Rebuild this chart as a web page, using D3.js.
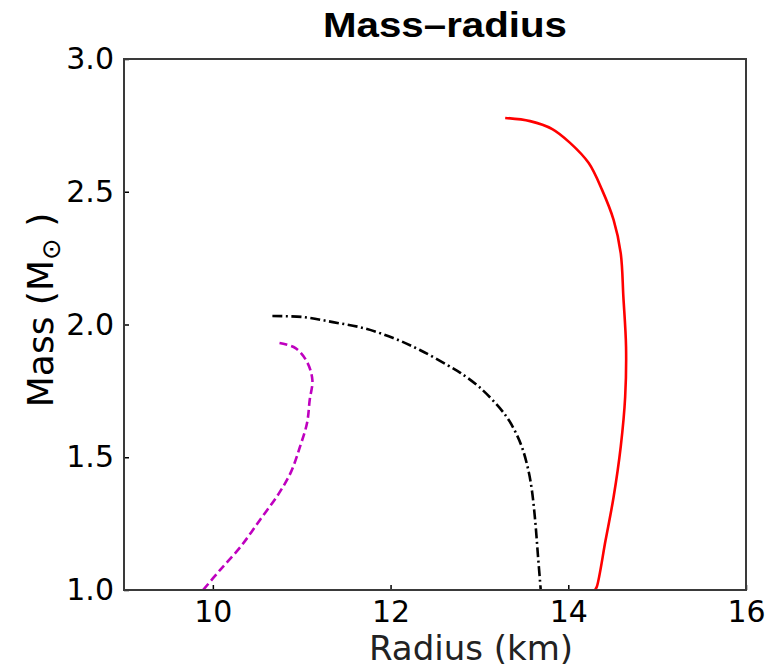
<!DOCTYPE html>
<html>
<head>
<meta charset="utf-8">
<script src="https://cdn.jsdelivr.net/npm/d3@7"></script>
<style>
  body { margin: 0; background: #fff; }
</style>
</head>
<body>
<div id="chart"></div>
<script>
// mass-radius curves (radius km, mass Msun)
var redRadius = [13.29, 13.57, 13.82, 14.02, 14.23, 14.38, 14.51, 14.59, 14.62, 14.65, 14.64, 14.59, 14.51, 14.42, 14.32, 14.30];
var redMass   = [2.778, 2.766, 2.736, 2.684, 2.608, 2.507, 2.394, 2.269, 2.104, 1.915, 1.727, 1.539, 1.350, 1.188, 1.011, 1.0];

var blackRadius = [10.67, 11.02, 11.35, 11.69, 12.03, 12.33, 12.64, 12.79, 13.01, 13.23, 13.33, 13.42, 13.49, 13.55, 13.59, 13.63, 13.66, 13.69];
var blackMass   = [2.032, 2.028, 2.009, 1.987, 1.949, 1.904, 1.847, 1.817, 1.761, 1.685, 1.640, 1.585, 1.527, 1.452, 1.377, 1.252, 1.124, 1.0];

var magentaRadius = [10.75, 10.93, 11.06, 11.12, 11.09, 11.06, 10.98, 10.88, 10.74, 10.53, 10.31, 10.08, 9.89];
var magentaMass   = [1.930, 1.911, 1.859, 1.791, 1.716, 1.629, 1.539, 1.445, 1.362, 1.264, 1.162, 1.075, 1.0];

var xTicks = [10, 12, 14, 16];
var yTicks = [1.0, 1.5, 2.0, 2.5, 3.0];

var width = 777;
var height = 669;

var svg = d3.select("#chart").append("svg")
  .attr("width", width)
  .attr("height", height);

var margin = {top: 59, right: 31, bottom: 79, left: 124};
var w = width - margin.left - margin.right;
var h = height - margin.top - margin.bottom;

var x = d3.scaleLinear().domain([9, 16]).range([0, w]);
var y = d3.scaleLinear().domain([1, 3]).range([h, 0]);

var g = svg.append("g")
  .attr("transform", "translate(" + margin.left + "," + margin.top + ")");

// clip so the curves end at the frame
g.append("clipPath").attr("id", "clip")
  .append("rect").attr("width", w).attr("height", h);

var line = d3.line()
  .x(function (d) { return x(d[0]); })
  .y(function (d) { return y(d[1]); })
  .curve(d3.curveCatmullRom.alpha(0.5));

var curves = [
  {r: redRadius, m: redMass, color: "#ff0000", dash: null},
  {r: blackRadius, m: blackMass, color: "#000000", dash: "10,3.5,2,3.5"},
  {r: magentaRadius, m: magentaMass, color: "#bf00bf", dash: "8,4"}
];

curves.forEach(function (c) {
  var pts = c.r.map(function (v, i) { return [v, c.m[i]]; });
  g.append("path")
    .attr("clip-path", "url(#clip)")
    .attr("d", line(pts))
    .attr("fill", "none")
    .attr("stroke", c.color)
    .attr("stroke-width", 2.6)
    .attr("stroke-dasharray", c.dash);
});

// axes, ticks pointing inward
var xAxis = g.append("g")
  .attr("transform", "translate(0," + h + ")")
  .call(d3.axisBottom(x).tickValues(xTicks).tickSizeInner(-5).tickSizeOuter(0).tickPadding(11)
    .tickFormat(d3.format("d")));

var yAxis = g.append("g")
  .call(d3.axisLeft(y).tickValues(yTicks).tickSizeInner(-5).tickSizeOuter(0).tickPadding(10)
    .tickFormat(d3.format(".1f")));

[xAxis, yAxis].forEach(function (a) {
  a.select(".domain").remove();
  a.selectAll(".tick line").attr("stroke", "#000").attr("stroke-width", 1.5);
  a.selectAll(".tick text")
    .attr("fill", "#000")
    .style("font-family", "DejaVu Sans")
    .style("font-size", "30px");
});
xAxis.selectAll(".tick text").attr("dy", "0.71em");

// frame
g.append("rect")
  .attr("width", w)
  .attr("height", h)
  .attr("fill", "none")
  .attr("stroke", "#3a3a3a")
  .attr("stroke-width", 2);

// labels
svg.append("text")
  .attr("x", 445)
  .attr("y", 37)
  .attr("text-anchor", "middle")
  .attr("textLength", 244)
  .attr("lengthAdjust", "spacingAndGlyphs")
  .style("font-family", "Liberation Sans")
  .style("font-weight", "bold")
  .style("font-size", "35px")
  .text("Mass–radius");

svg.append("text")
  .attr("x", margin.left + w / 2 + 36)
  .attr("y", 660)
  .attr("text-anchor", "middle")
  .style("font-family", "DejaVu Sans")
  .style("font-size", "34px")
  .attr("fill", "#222")
  .text("Radius (km)");

var yl = svg.append("text")
  .attr("transform", "translate(53,310) rotate(-90)")
  .attr("text-anchor", "middle")
  .style("font-family", "DejaVu Sans")
  .style("font-size", "36px")
  .attr("fill", "#000");
yl.append("tspan").text("Mass (M");
yl.append("tspan").attr("dy", 7).style("font-size", "26px").text("⊙");
yl.append("tspan").attr("dy", -7).text(" )");
</script>
</body>
</html>
